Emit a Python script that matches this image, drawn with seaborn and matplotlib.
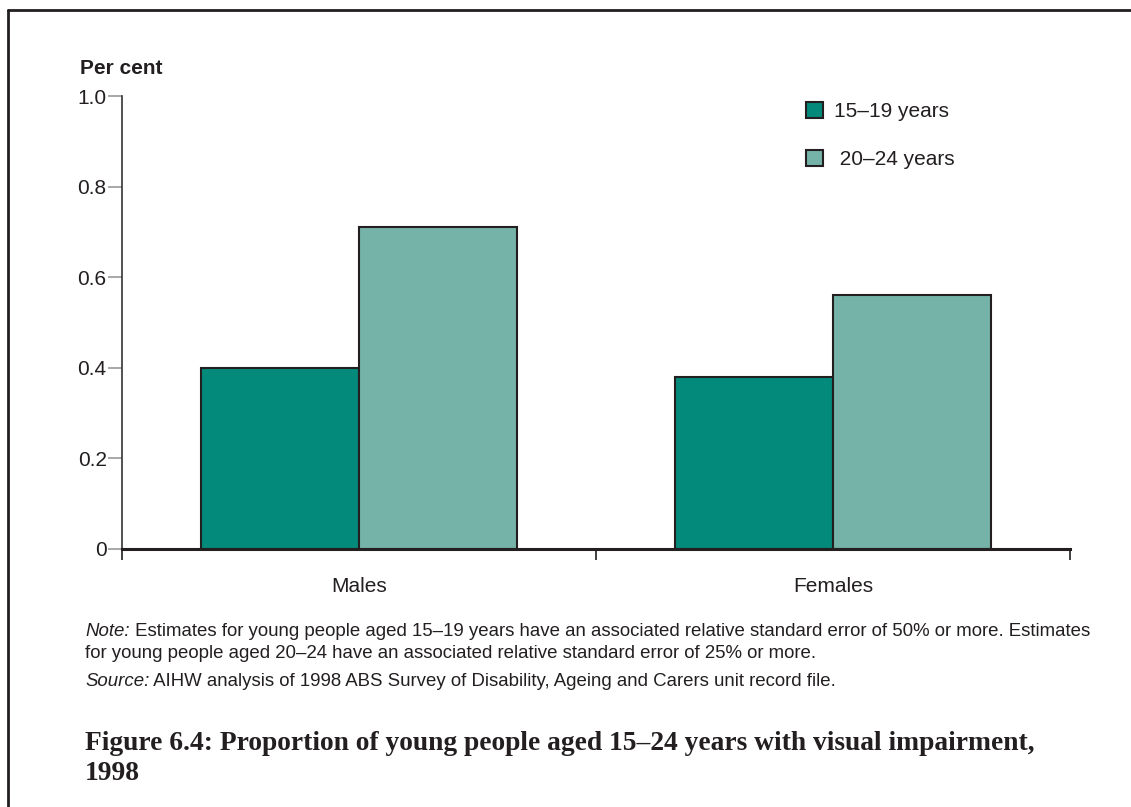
import matplotlib
matplotlib.use("Agg")
import matplotlib.pyplot as plt
import seaborn as sns
import pandas as pd
from matplotlib.lines import Line2D
from matplotlib.patches import Patch

categories = ["Males", "Females"]
groups = ["15\u201319 years", "20\u201324 years"]
values_15_19 = [0.40, 0.38]
values_20_24 = [0.71, 0.56]
yticks = [0, 0.2, 0.4, 0.6, 0.8, 1.0]
ytick_labels = ["0", "0.2", "0.4", "0.6", "0.8", "1.0"]
colors = ["#038a7a", "#75b2a8"]

df = pd.DataFrame({
    "sex": categories * 2,
    "group": [groups[0]] * 2 + [groups[1]] * 2,
    "value": values_15_19 + values_20_24,
})

sns.set_theme(style="white")
plt.rcParams["font.family"] = ["Liberation Sans", "DejaVu Sans"]

fig = plt.figure(figsize=(11.31, 8.07), dpi=100)
ax = fig.add_axes([122/1131, 1-549/807, (1070-122)/1131, (549-96)/807])

sns.barplot(data=df, x="sex", y="value", hue="group", order=categories,
            hue_order=groups, palette=colors, width=0.667, saturation=1,
            edgecolor="#231f20", linewidth=1.5, ax=ax, legend=False)

ax.set_xlim(-0.5, 1.5)
ax.set_ylim(0, 1.0)
ax.set_xlabel("")
ax.set_ylabel("")

for s in ["top", "right"]:
    ax.spines[s].set_visible(False)
ax.spines["left"].set_color("#333333")
ax.spines["left"].set_linewidth(1.2)
ax.spines["bottom"].set_color("#231f20")
ax.spines["bottom"].set_linewidth(2.2)
ax.spines["bottom"].set_zorder(5)

fs = 15
ax.set_yticks(yticks)
ax.set_yticklabels(ytick_labels, fontsize=fs, color="#231f20")
ax.tick_params(axis="y", which="major", direction="out", length=10, width=1.2,
               color="#999999", pad=1, left=True)

ax.set_xticks([-0.5, 0.5, 1.5])
ax.set_xticklabels([])
ax.tick_params(axis="x", which="major", direction="out", length=8, width=1.2,
               color="#231f20", bottom=True)
ax.set_xticks([0, 1], minor=True)
ax.set_xticklabels(categories, minor=True, fontsize=fs, color="#231f20")
ax.tick_params(axis="x", which="minor", length=0, pad=20)

fig.text(80/1131, 1-69/807, "Per cent", fontsize=fs, fontweight="bold",
         color="#231f20", va="center", ha="left")

handles = [Patch(facecolor=colors[0], edgecolor="#231f20", linewidth=1.5),
           Patch(facecolor=colors[1], edgecolor="#231f20", linewidth=1.5)]
leg = ax.legend(handles, [groups[0], " " + groups[1]], loc="upper left",
                bbox_to_anchor=(806/1131, 1-102/807), bbox_transform=fig.transFigure,
                frameon=False, fontsize=fs, handlelength=0.8, handleheight=0.8,
                handletextpad=0.55, labelspacing=1.38, borderpad=0, borderaxespad=0)
for t in leg.get_texts():
    t.set_color("#231f20")

note_color = "#231f20"
nfs = 13.4
t1 = fig.text(85/1131, 1-632/807, "Note:", fontsize=nfs, fontstyle="italic",
              color=note_color, va="center", ha="left")
ax.annotate(" Estimates for young people aged 15\u201319 years have an associated relative standard error of 50% or more. Estimates",
            xy=(1, 0), xycoords=t1, va="bottom", ha="left", fontsize=nfs,
            color=note_color, annotation_clip=False)
fig.text(85/1131, 1-653/807,
         "for young people aged 20\u201324 have an associated relative standard error of 25% or more.",
         fontsize=nfs, color=note_color, va="center", ha="left")
t2 = fig.text(85/1131, 1-682/807, "Source:", fontsize=nfs, fontstyle="italic",
              color=note_color, va="center", ha="left")
ax.annotate(" AIHW analysis of 1998 ABS Survey of Disability, Ageing and Carers unit record file.",
            xy=(1, 0), xycoords=t2, va="bottom", ha="left", fontsize=nfs,
            color=note_color, annotation_clip=False)

tfs = 19.8
fig.text(85/1131, 1-744/807,
         "Figure 6.4: Proportion of young people aged 15\u201324 years with visual impairment,",
         fontsize=tfs, fontweight="bold", family=["Liberation Serif", "DejaVu Serif"],
         color="#231f20", va="center", ha="left")
fig.text(85/1131, 1-774/807, "1998",
         fontsize=tfs, fontweight="bold", family=["Liberation Serif", "DejaVu Serif"],
         color="#231f20", va="center", ha="left")

fig.add_artist(Line2D([8/1131, 1], [1-10/807, 1-10/807], transform=fig.transFigure,
                      color="#231f20", linewidth=2))
fig.add_artist(Line2D([8/1131, 8/1131], [0, 1-10/807], transform=fig.transFigure,
                      color="#231f20", linewidth=2))

fig.savefig("out.png", dpi=100)
